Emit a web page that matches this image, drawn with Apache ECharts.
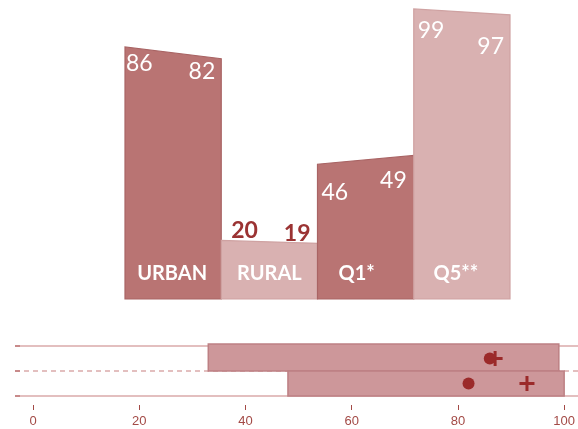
<!DOCTYPE html>
<html><head><meta charset="utf-8">
<script src="https://cdn.jsdelivr.net/npm/echarts@6/dist/echarts.min.js"></script>
<style>html,body{margin:0;padding:0;background:#fff}#c{width:578px;height:429px}</style>
</head><body><div id="c"></div>
<script>
// ---- data ----
const categories = ['URBAN', 'RURAL', 'Q1*', 'Q5**'];
const startValues = [86, 20, 46, 99];
const endValues = [82, 19, 49, 97];
const rangeRows = [0, 1];
const rangeLow = [33, 48];
const rangeHigh = [99, 100];
const dotValues = [86, 82];
const plusValues = [87, 93];
const xTicks = [0, 20, 40, 60, 80, 100];

// ---- styles / layout (not data) ----
const fills = ['#b97473', '#d9b1b1', '#b97473', '#d9b1b1'];
const strokes = ['#a96464', '#cfa2a2', '#a96464', '#cfa2a2'];
const labelInside = [true, false, true, true];
const leftDy = [17, -10, 28, 22];
const rightDy = [13, -10, 25, 32];
const leftDx = [1, 10, 4, 4];
const rightDx = [6, 7, 7, 6];
const catDx = [-1, 0, -9, -6];
const FONT = 'Lato, "Open Sans", sans-serif';

const chart = echarts.init(document.getElementById('c'), null, {renderer: 'canvas'});

function renderShape(params, api) {
  const i = api.value(0), a = api.value(1), b = api.value(2);
  const p0 = api.coord([i, 0]), p1 = api.coord([i, a]);
  const p2 = api.coord([i + 1, b]), p3 = api.coord([i + 1, 0]);
  const idx = params.dataIndex;
  const inside = labelInside[idx];
  const valStyle = inside
    ? {fill: '#fff', font: '23px ' + FONT}
    : {fill: '#9b3333', font: 'bold 23px ' + FONT};
  return {
    type: 'group',
    children: [
      {type: 'polygon', shape: {points: [p0, p1, p2, p3]},
       style: {fill: fills[idx], stroke: strokes[idx], lineWidth: 1.2}},
      {type: 'text', x: p1[0] + leftDx[idx], y: p1[1] + leftDy[idx],
       style: Object.assign({text: String(a), align: 'left', verticalAlign: 'middle'}, valStyle)},
      {type: 'text', x: p2[0] - rightDx[idx], y: p2[1] + rightDy[idx],
       style: Object.assign({text: String(b), align: 'right', verticalAlign: 'middle'}, valStyle)},
      {type: 'text', x: (p0[0] + p3[0]) / 2 + catDx[idx], y: p0[1] - 25,
       style: {text: categories[idx], fill: '#fff', font: 'bold 20px ' + FONT,
               align: 'center', verticalAlign: 'middle'}}
    ]
  };
}

function renderLine(params, api) {
  const v = api.value(0);
  const y = api.coord([0, v])[1];
  const cs = params.coordSys;
  const x0 = cs.x - 18;
  const dashed = v === 1;
  return {
    type: 'group',
    children: [
      {type: 'line', shape: {x1: x0, y1: y, x2: 578, y2: y},
       style: {stroke: '#e3bfbf', lineWidth: 2, lineDash: dashed ? [5, 4] : null}},
      {type: 'line', shape: {x1: x0, y1: y, x2: x0 + 5, y2: y},
       style: {stroke: '#c88a8a', lineWidth: 2}}
    ]
  };
}

function renderRange(params, api) {
  const r = api.value(0), lo = api.value(1), hi = api.value(2);
  const a = api.coord([lo, r]), b = api.coord([hi, r + 1]);
  const top = r === 0 ? a[1] - 2 : a[1];
  return {
    type: 'rect',
    shape: {x: a[0], y: top, width: b[0] - a[0], height: b[1] - top},
    style: {fill: '#cd979a', stroke: '#bd8084', lineWidth: 1.5}
  };
}

const option = {
  animation: false,
  grid: [
    {left: 125, top: 6, width: 385, height: 293},
    {left: 33, top: 346, width: 537, height: 50}
  ],
  xAxis: [
    {gridIndex: 0, type: 'value', min: 0, max: categories.length, show: false},
    {gridIndex: 1, type: 'value', position: 'bottom', min: xTicks[0], max: xTicks[xTicks.length - 1], interval: 20,
     offset: 9,
     axisLine: {show: false, onZero: false},
     axisTick: {show: true, length: 5, lineStyle: {color: '#a34a46', width: 1}},
     axisLabel: {margin: 10, color: '#a34a46', fontSize: 13, fontFamily: '"Liberation Sans", Arial, sans-serif'},
     splitLine: {show: false}}
  ],
  yAxis: [
    {gridIndex: 0, type: 'value', min: 0, max: 100, show: false},
    {gridIndex: 1, type: 'value', min: 0, max: 2, inverse: true, show: false}
  ],
  series: [
    {type: 'custom', xAxisIndex: 0, yAxisIndex: 0, renderItem: renderShape,
     data: categories.map((c, i) => [i, startValues[i], endValues[i]]), clip: false},
    {type: 'custom', xAxisIndex: 1, yAxisIndex: 1, renderItem: renderLine,
     data: [[0], [1], [2]], encode: {y: 0}, clip: false, z: 1},
    {type: 'custom', xAxisIndex: 1, yAxisIndex: 1, renderItem: renderRange,
     data: rangeRows.map((r, i) => [r, rangeLow[i], rangeHigh[i]]), encode: {y: 0, x: [1, 2]}, z: 2},
    {type: 'scatter', xAxisIndex: 1, yAxisIndex: 1,
     symbol: 'path://M6,0 H9 V6 H15 V9 H9 V15 H6 V9 H0 V6 H6 Z', symbolSize: 15,
     itemStyle: {color: '#9b2a2a', opacity: 1},
     data: rangeRows.map((r, i) => [plusValues[i], r + 0.5]), z: 3},
    {type: 'scatter', xAxisIndex: 1, yAxisIndex: 1, symbol: 'circle', symbolSize: 12,
     itemStyle: {color: '#9b2a2a', opacity: 1},
     data: rangeRows.map((r, i) => [dotValues[i], r + 0.5]), z: 4}
  ]
};
chart.setOption(option);
</script>
</body></html>
